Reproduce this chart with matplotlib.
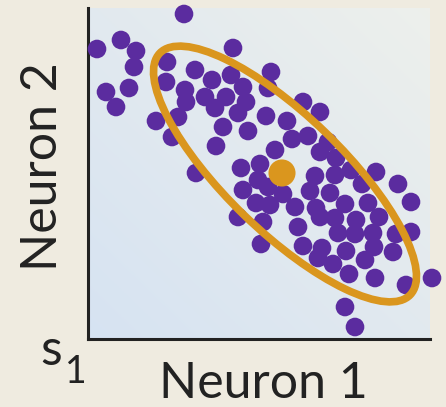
import matplotlib.pyplot as plt
import numpy as np
from matplotlib.patches import Ellipse

# firing of the two neurons for stimulus s1
neuron1 = [96, 33, 9, 48, 145, 46, 79, 107, 143, 183, 124, 78, 41, 18, 97, 155,
           180, 98, 117, 138, 158, 215, 28, 127, 150, 178, 232, 90, 68, 199, 135,
           160, 84, 220, 204, 240, 128, 187, 232, 248, 172, 153, 108, 263, 288,
           170, 180, 227, 247, 310, 274, 155, 195, 222, 242, 323, 168, 182, 207,
           228, 257, 280, 150, 175, 232, 247, 268, 291, 210, 250, 267, 285, 308,
           323, 173, 215, 234, 258, 286, 305, 230, 277, 245, 261, 287, 318, 344,
           257, 267]
neuron2 = [325, 299, 290, 288, 291, 272, 277, 269, 264, 267, 259, 257, 251, 247,
           249, 252, 251, 237, 242, 242, 237, 237, 232, 231, 226, 223, 227, 222,
           218, 218, 212, 208, 202, 203, 200, 197, 193, 189, 187, 181, 175, 171,
           166, 169, 167, 159, 152, 163, 164, 155, 155, 149, 145, 148, 146, 137,
           136, 134, 132, 131, 135, 136, 122, 117, 122, 121, 119, 122, 112, 106,
           105, 106, 105, 107, 95, 93, 91, 88, 92, 87, 81, 79, 75, 65, 61, 54, 61,
           32, 12]
mean_point = (194, 166)
ellipse_center = (197, 165)
ellipse_axes = (348, 116)
ellipse_angle = -44

purple = '#5B2C9F'
orange = '#DA961E'
beige = '#EFEBE0'
ink = '#222222'

plt.rcParams['font.family'] = ['Lato', 'DejaVu Sans']

fig = plt.figure(figsize=(4.46, 4.07), dpi=100, facecolor=beige)
ax = fig.add_axes([88 / 446, 68 / 407, 342 / 446, 331 / 407])
ax.set_xlim(0, 342)
ax.set_ylim(0, 331)

# soft blue background, lighter towards the top right
gx, gy = np.meshgrid(np.linspace(0, 1, 200), np.linspace(0, 1, 200))
t = np.clip((gx + gy) / 2, 0, 1)[..., None]
c_low = np.array([0.84, 0.89, 0.95])
c_high = np.array([0.93, 0.94, 0.925])
ax.imshow(c_low * (1 - t) + c_high * t, extent=[0, 342, 0, 331], origin='lower',
          aspect='auto', zorder=0)

ax.scatter(neuron1, neuron2, s=180, color=purple, edgecolors='none', zorder=3,
           clip_on=False)
ax.add_patch(Ellipse(ellipse_center, ellipse_axes[0], ellipse_axes[1],
                     angle=ellipse_angle, fill=False, edgecolor=orange, lw=5.5,
                     zorder=4))
ax.scatter([mean_point[0]], [mean_point[1]], s=380, color=orange,
           edgecolors='none', zorder=5)

for side in ['top', 'right']:
    ax.spines[side].set_visible(False)
for side in ['left', 'bottom']:
    ax.spines[side].set_linewidth(2.2)
    ax.spines[side].set_color(ink)
ax.set_xticks([])
ax.set_yticks([])

fig.text(263 / 446, 9 / 407, 'Neuron 1', ha='center', va='baseline',
         fontsize=36, color=ink)
fig.text(43 / 446, 240 / 407, 'Neuron 2', ha='center', va='center',
         rotation=90, fontsize=36, color=ink)
fig.text(40 / 446, 42 / 407, 's', ha='left', va='baseline', fontsize=36,
         color=ink)
fig.text(65 / 446, 24 / 407, '1', ha='left', va='baseline', fontsize=27,
         color=ink)

fig.savefig('out.png', dpi=100, facecolor=beige)
